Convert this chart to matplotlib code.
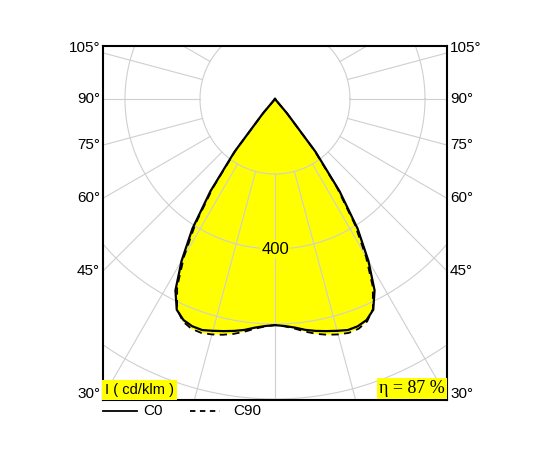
import numpy as np
import matplotlib
matplotlib.use('Agg')
import matplotlib.pyplot as plt
from matplotlib.lines import Line2D

plt.rcParams['font.family'] = ['Liberation Sans', 'DejaVu Sans']

# Lichtstärkeverteilung (cd/klm), Ausstrahlungswinkel gamma in Grad
gamma = [0, 2.5, 5, 7.5, 10, 12.5, 15, 17.5, 20, 22.5, 25, 27.5, 30, 32.5, 35, 37.5, 40, 42.5, 45, 90, 180]
c0 = [603, 606, 612, 621, 628, 634, 640, 646, 645, 638, 620, 575, 498, 410, 300, 178, 50, 0, 0, 0, 0]
c90 = [603, 607, 615, 626, 636, 644, 650, 654, 652, 642, 618, 565, 485, 395, 288, 170, 48, 0, 0, 0, 0]

ring_values = [200, 400, 600, 800]
ring_label = '400'
angle_labels = [30, 45, 60, 75, 90, 105]
eta_text = 'η = 87 %'
unit_text = 'I ( cd/klm )'
series_names = ['C0', 'C90']

s = 200 / 75.0  # cd/klm pro Pixel
xmax = 172 * s
ytop = 53 * s
ybot = -301 * s


def to_xy(g, vals):
    # beide Halbebenen, 0° zeigt nach unten
    g = np.radians(np.array(g, dtype=float))
    v = np.array(vals, dtype=float)
    gg = np.concatenate([-g[::-1], g[1:]])
    vv = np.concatenate([v[::-1], v[1:]])
    return vv * np.sin(gg), -vv * np.cos(gg)


fig = plt.figure(figsize=(5.5, 4.5), dpi=100)
ax = fig.add_axes([103 / 550, 1 - 400 / 450, 344 / 550, 354 / 450])
ax.set_xlim(-xmax, xmax)
ax.set_ylim(ybot, ytop)
ax.set_xticks([])
ax.set_yticks([])
for sp in ax.spines.values():
    sp.set_linewidth(1.5)

# Füllung
for vals in [c0, c90]:
    x, y = to_xy(gamma, vals)
    ax.fill(x, y, color='#ffff00', lw=0, zorder=1)

# Gitter
grid_col = '#cfcfcf'
t = np.linspace(0, 2 * np.pi, 400)
for r in ring_values:
    ax.plot(r * np.cos(t), r * np.sin(t), color=grid_col, lw=0.8, zorder=2)
for a in range(0, 360, 15):
    ar = np.radians(a)
    ax.plot([200 * np.sin(ar), 1200 * np.sin(ar)], [-200 * np.cos(ar), -1200 * np.cos(ar)],
            color=grid_col, lw=0.8, zorder=2)

# Kurven
x, y = to_xy(gamma, c0)
ax.plot(x, y, color='black', lw=1.6, zorder=4)
x, y = to_xy(gamma, c90)
ax.plot(x, y, color='black', lw=1.3, ls=(0, (4, 3)), zorder=3)

ax.text(0, -400, ring_label, ha='center', va='center', fontsize=12, zorder=5,
        bbox=dict(facecolor='#ffff00', edgecolor='none', pad=1))

# Winkelbeschriftung
for a in angle_labels:
    yy = -xmax / np.tan(np.radians(a))
    yy = max(yy, ybot + 6 * s)
    if yy > ytop - 10 * s:
        yy = ytop - 2 * s
    ax.text(-xmax - 3 * s, yy, f'{a}°', ha='right', va='center', fontsize=11, clip_on=False)
    ax.text(xmax + 3 * s, yy, f'{a}°', ha='left', va='center', fontsize=11, clip_on=False)

ax.text(-xmax + 2 * s, ybot + 3 * s, unit_text, ha='left', va='bottom', fontsize=10.5, zorder=6,
        bbox=dict(facecolor='#ffff00', edgecolor='none', pad=2))
ax.text(xmax - 2 * s, ybot + 3 * s, eta_text, ha='right', va='bottom', fontsize=13, zorder=6,
        family=['Liberation Serif', 'DejaVu Serif'],
        bbox=dict(facecolor='#ffff00', edgecolor='none', pad=1.5))

# Legende unter dem Diagramm
yl = 1 - 411 / 450
fig.add_artist(Line2D([103 / 550, 137 / 550], [yl, yl], color='black', lw=1.3))
fig.text(143 / 550, yl, series_names[0], va='center', fontsize=11)
fig.add_artist(Line2D([190 / 550, 220 / 550], [yl, yl], color='black', lw=1.3, ls=(0, (3, 2.5))))
fig.text(233 / 550, yl, series_names[1], va='center', fontsize=11)

fig.savefig('out.png', dpi=100)
